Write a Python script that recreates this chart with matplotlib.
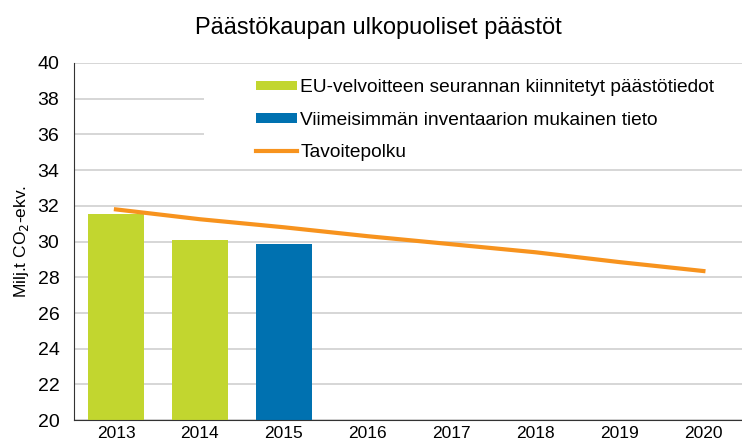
import matplotlib
matplotlib.use('Agg')
import matplotlib.pyplot as plt
from matplotlib.patches import Rectangle

plt.rcParams['font.family'] = ['Liberation Sans', 'DejaVu Sans']

years = ['2013', '2014', '2015', '2016', '2017', '2018', '2019', '2020']
eu_years = [0, 1]
eu_values = [31.55, 30.1]
inv_years = [2]
inv_values = [29.85]
target = [31.8, 31.25, 30.8, 30.3, 29.85, 29.4, 28.85, 28.35]

fig = plt.figure(figsize=(7.42, 4.40), dpi=100)
ax = fig.add_axes([0.0997, 0.045, 0.9003, 0.812])

b1 = ax.bar(eu_years, eu_values, width=0.67, bottom=0, color='#c2d62f',
            label='EU-velvoitteen seurannan kiinnitetyt päästötiedot', zorder=2)
b2 = ax.bar(inv_years, inv_values, width=0.67, bottom=0, color='#0071b0',
            label='Viimeisimmän inventaarion mukainen tieto', zorder=2)
l1, = ax.plot(range(len(years)), target, color='#f7931e', lw=3,
              label='Tavoitepolku', zorder=3)

ax.set_ylim(20, 40)
ax.set_yticks(range(20, 41, 2))
ax.set_xlim(-0.5, 7.46)
ax.set_xticks(range(len(years)))
ax.set_xticklabels(years)
ax.tick_params(axis='x', length=0, labelsize=12.5, pad=4)
ax.tick_params(axis='y', length=0, labelsize=14, pad=10.5)
ax.yaxis.grid(True, color='#d0d0d0', lw=1.2)
ax.set_axisbelow(True)
for s in ['top', 'right']:
    ax.spines[s].set_visible(False)
ax.spines['left'].set_color('#333333')
ax.spines['bottom'].set_color('#333333')
ax.set_ylabel('Milj.t CO$_2$-ekv.', fontsize=12.5, labelpad=5)

# white area behind the legend hides the grid
ax.add_patch(Rectangle((0.195, 0.715), 0.805, 0.275, transform=ax.transAxes,
                       facecolor='white', edgecolor='none', zorder=1))

leg = ax.legend([b1, b2, l1], [b1.get_label(), b2.get_label(), l1.get_label()],
                loc='upper left', bbox_to_anchor=(0.264, 0.97), fontsize=13.8,
                frameon=False, handlelength=2.15, handleheight=0.4,
                handletextpad=0.15, labelspacing=0.8, borderaxespad=0,
                borderpad=0.3)
leg.set_zorder(5)

fig.suptitle('Päästökaupan ulkopuoliset päästöt', fontsize=17, x=0.51, y=0.962)

fig.savefig('out.png', dpi=100)
